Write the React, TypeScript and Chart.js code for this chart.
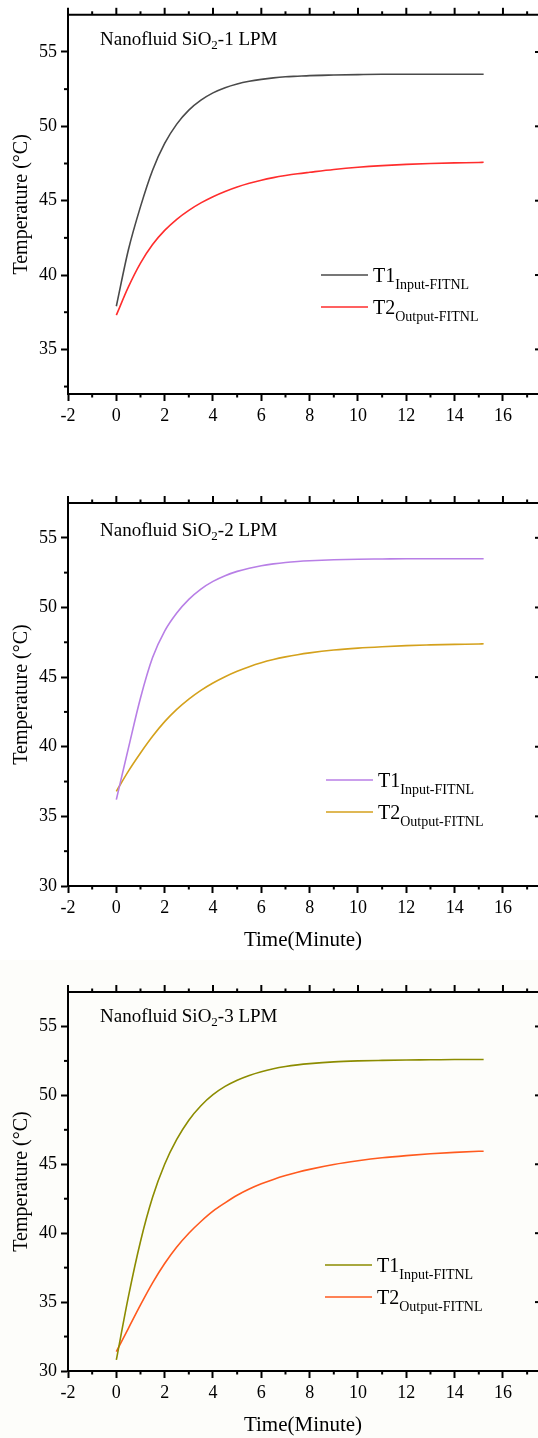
import React, { useEffect, useRef } from 'react';
import { Chart, registerables } from 'chart.js';

Chart.register(...registerables);

const FONT = '"Liberation Serif", "Times New Roman", serif';

// ---- data ----
const TIME_MIN = [0, 0.5, 1, 1.5, 2, 2.5, 3, 3.5, 4, 4.5, 5, 5.5, 6, 6.5, 7, 7.5, 8, 9, 10, 11, 12, 13, 14, 15, 15.2];

const T1_1LPM = [37.9, 41.7, 44.6, 47.05, 48.85, 50.15, 51.09, 51.76, 52.25, 52.6, 52.85, 53.03, 53.16, 53.26, 53.33, 53.37, 53.41, 53.45, 53.48, 53.5, 53.5, 53.5, 53.5, 53.5, 53.5];
const T2_1LPM = [37.3, 39.2, 40.8, 42.05, 43.0, 43.75, 44.35, 44.85, 45.27, 45.62, 45.92, 46.17, 46.38, 46.55, 46.69, 46.81, 46.91, 47.1, 47.25, 47.36, 47.44, 47.5, 47.54, 47.57, 47.58];

const T1_2LPM = [36.2, 39.9, 43.5, 46.4, 48.3, 49.6, 50.58, 51.32, 51.87, 52.28, 52.59, 52.82, 53.0, 53.13, 53.23, 53.3, 53.35, 53.42, 53.46, 53.48, 53.5, 53.5, 53.5, 53.5, 53.5];
const T2_2LPM = [36.8, 38.25, 39.55, 40.75, 41.8, 42.68, 43.42, 44.05, 44.58, 45.03, 45.42, 45.75, 46.03, 46.26, 46.45, 46.61, 46.74, 46.94, 47.08, 47.18, 47.26, 47.31, 47.35, 47.38, 47.39];

const T1_3LPM = [30.8, 35.4, 39.4, 42.6, 45.0, 46.8, 48.2, 49.25, 50.05, 50.65, 51.1, 51.45, 51.72, 51.93, 52.09, 52.21, 52.3, 52.43, 52.5, 52.54, 52.57, 52.58, 52.6, 52.6, 52.6];
const T2_3LPM = [31.4, 33.1, 34.8, 36.4, 37.8, 39.0, 40.0, 40.85, 41.6, 42.2, 42.75, 43.2, 43.58, 43.9, 44.18, 44.42, 44.63, 44.98, 45.25, 45.47, 45.63, 45.76, 45.86, 45.94, 45.95];

const X_TICKS = [-2, 0, 2, 4, 6, 8, 10, 12, 14, 16];
const X_MINOR = [-1, 1, 3, 5, 7, 9, 11, 13, 15, 17];
const Y_TICKS_1 = [35, 40, 45, 50, 55];
const Y_MINOR_1 = [32.5, 37.5, 42.5, 47.5, 52.5];
const Y_TICKS_23 = [30, 35, 40, 45, 50, 55];
const Y_MINOR_23 = [32.5, 37.5, 42.5, 47.5, 52.5];

const SERIES_LABELS = ['T1', 'T2'];
const SERIES_SUBS = ['Input-FITNL', 'Output-FITNL'];
const PANEL_NUMS = ['1', '2', '3'];

const X_TITLE = 'Time(Minute)';
const Y_TITLE = 'Temperature (°C)';

const PANELS = [
  {
    num: PANEL_NUMS[0], t1: T1_1LPM, t2: T2_1LPM, c1: '#4a4a4a', c2: '#ff2d2d',
    yMin: 32, yTicks: Y_TICKS_1, yMinor: Y_MINOR_1, xTitle: false,
    top: 0, height: 440, padTop: 14, xScaleH: 46,
    legX: 321, legY: [275, 307], titleBase: 45, bg: '#ffffff',
  },
  {
    num: PANEL_NUMS[1], t1: T1_2LPM, t2: T2_2LPM, c1: '#b87fe6', c2: '#d4a11c',
    yMin: 30, yTicks: Y_TICKS_23, yMinor: Y_MINOR_23, xTitle: true,
    top: 460, height: 493, padTop: 43, xScaleH: 67,
    legX: 326, legY: [320, 352], titleBase: 76, bg: '#ffffff',
  },
  {
    num: PANEL_NUMS[2], t1: T1_3LPM, t2: T2_3LPM, c1: '#8c8c00', c2: '#ff5a1e',
    yMin: 30, yTicks: Y_TICKS_23, yMinor: Y_MINOR_23, xTitle: true,
    top: 960, height: 478, padTop: 32, xScaleH: 67,
    legX: 325, legY: [305, 337], titleBase: 62, bg: '#fdfdfa',
  },
];

const decorPlugin = {
  id: 'decor',
  afterDraw(chart: any) {
    const o = chart.options.plugins.decor;
    if (!o) return;
    const { ctx, chartArea: a } = chart;
    const xs = chart.scales.x;
    const ys = chart.scales.y;
    ctx.save();
    ctx.strokeStyle = '#000';
    ctx.lineWidth = 2;
    ctx.lineCap = 'butt';
    const seg = (x0: number, y0: number, x1: number, y1: number) => {
      ctx.beginPath();
      ctx.moveTo(x0, y0);
      ctx.lineTo(x1, y1);
      ctx.stroke();
    };
    // top mirror axis
    seg(a.left - 1, a.top, a.right, a.top);
    X_TICKS.forEach((v) => {
      const x = xs.getPixelForValue(v);
      seg(x, a.top, x, a.top - 7);
    });
    X_MINOR.forEach((v) => {
      const x = xs.getPixelForValue(v);
      if (x > a.right - 1) return;
      seg(x, a.top, x, a.top - 3.5);
      seg(x, a.bottom, x, a.bottom + 3.5);
    });
    o.yMinor.forEach((v: number) => {
      const y = ys.getPixelForValue(v);
      seg(a.left, y, a.left - 4, y);
    });
    o.yTicks.forEach((v: number) => {
      const y = ys.getPixelForValue(v);
      seg(a.right - 3, y, a.right, y);
    });

    // panel title
    ctx.fillStyle = '#000';
    ctx.textBaseline = 'alphabetic';
    ctx.textAlign = 'left';
    let tx = 100;
    const tb = o.titleBase;
    ctx.font = `19px ${FONT}`;
    const p1 = 'Nanofluid SiO';
    ctx.fillText(p1, tx, tb);
    tx += ctx.measureText(p1).width;
    ctx.font = `13px ${FONT}`;
    ctx.fillText('2', tx, tb + 4);
    tx += ctx.measureText('2').width;
    ctx.font = `19px ${FONT}`;
    ctx.fillText(`-${o.num} LPM`, tx, tb);

    // legend
    const colors = [o.c1, o.c2];
    for (let i = 0; i < 2; i++) {
      const ly = o.legY[i];
      ctx.strokeStyle = colors[i];
      ctx.lineWidth = 1.6;
      seg(o.legX, ly, o.legX + 47, ly);
      ctx.fillStyle = '#000';
      let lx = o.legX + 52;
      ctx.font = `20px ${FONT}`;
      ctx.fillText(SERIES_LABELS[i], lx, ly + 7);
      lx += ctx.measureText(SERIES_LABELS[i]).width;
      ctx.font = `14px ${FONT}`;
      ctx.fillText(SERIES_SUBS[i], lx, ly + 14);
    }
    ctx.restore();
  },
};

function Panel({ cfg }: { cfg: any }) {
  const ref = useRef<HTMLCanvasElement | null>(null);
  useEffect(() => {
    if (!ref.current) return;
    const chart = new Chart(ref.current, {
      type: 'line',
      data: {
        datasets: [
          {
            label: SERIES_LABELS[0],
            data: TIME_MIN.map((t, i) => ({ x: t, y: cfg.t1[i] })),
            borderColor: cfg.c1,
            borderWidth: 1.6,
            pointRadius: 0,
            cubicInterpolationMode: 'monotone',
            fill: false,
          },
          {
            label: SERIES_LABELS[1],
            data: TIME_MIN.map((t, i) => ({ x: t, y: cfg.t2[i] })),
            borderColor: cfg.c2,
            borderWidth: 1.6,
            pointRadius: 0,
            cubicInterpolationMode: 'monotone',
            fill: false,
          },
        ],
      },
      options: {
        animation: false,
        responsive: false,
        devicePixelRatio: 1,
        layout: { padding: { top: cfg.padTop, left: 0, right: 0, bottom: 0 } },
        plugins: {
          legend: { display: false },
          tooltip: { enabled: false },
          decor: cfg,
        } as any,
        scales: {
          x: {
            type: 'linear',
            min: -2,
            max: 17.45,
            afterBuildTicks: (s: any) => {
              s.ticks = X_TICKS.map((v) => ({ value: v }));
            },
            afterFit: (s: any) => {
              s.height = cfg.xScaleH;
            },
            grid: {
              display: true,
              drawOnChartArea: false,
              drawTicks: true,
              tickLength: 7,
              tickWidth: 2,
              tickColor: '#000',
            },
            border: { display: true, color: '#000', width: 2 },
            ticks: {
              color: '#000',
              font: { family: FONT, size: 18 },
              padding: 4,
              maxRotation: 0,
              autoSkip: false,
              callback: (v: any) => String(v),
            },
            title: {
              display: cfg.xTitle,
              text: X_TITLE,
              color: '#000',
              font: { family: FONT, size: 21 },
              padding: { top: 0, bottom: 0 },
            },
          },
          y: {
            type: 'linear',
            min: cfg.yMin,
            max: 57.5,
            afterBuildTicks: (s: any) => {
              s.ticks = cfg.yTicks.map((v: number) => ({ value: v }));
            },
            afterFit: (s: any) => {
              s.width = 68;
            },
            grid: {
              display: true,
              drawOnChartArea: false,
              drawTicks: true,
              tickLength: 7,
              tickWidth: 2,
              tickColor: '#000',
            },
            border: { display: true, color: '#000', width: 2 },
            ticks: {
              color: '#000',
              font: { family: FONT, size: 18 },
              padding: 4,
              autoSkip: false,
              callback: (v: any) => String(v),
            },
            title: {
              display: true,
              text: Y_TITLE,
              color: '#000',
              font: { family: FONT, size: 20 },
              padding: { top: 10, bottom: 0 },
            },
          },
        },
      } as any,
      plugins: [decorPlugin],
    });
    return () => chart.destroy();
  }, [cfg]);
  return (
    <canvas
      ref={ref}
      width={538}
      height={cfg.height}
      style={{
        position: 'absolute',
        left: 0,
        top: cfg.top,
        width: 538,
        height: cfg.height,
        display: 'block',
        background: cfg.bg,
      }}
    />
  );
}

export default function App() {
  return (
    <div style={{ position: 'absolute', left: 0, top: 0, width: 538, height: 1438, background: '#fff', overflow: 'hidden' }}>
      {PANELS.map((p, i) => (
        <Panel key={i} cfg={p} />
      ))}
    </div>
  );
}
